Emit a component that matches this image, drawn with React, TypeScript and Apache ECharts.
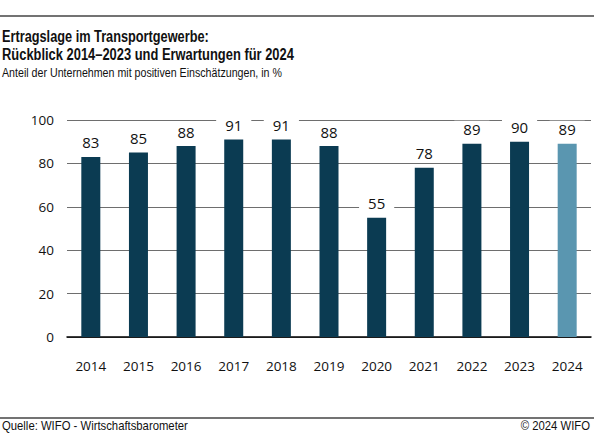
import React, { useEffect, useRef } from "react";
import * as echarts from "echarts";

const years = ["2014", "2015", "2016", "2017", "2018", "2019", "2020", "2021", "2022", "2023", "2024"];
const values = [83, 85, 88, 91, 91, 88, 55, 78, 89, 90, 89];
const forecastYear = "2024";

const titleLine1 = "Ertragslage im Transportgewerbe:";
const titleLine2 = "Rückblick 2014–2023 und Erwartungen für 2024";
const subtitle = "Anteil der Unternehmen mit positiven Einschätzungen, in %";
const sourceText = "Quelle: WIFO - Wirtschaftsbarometer";
const copyrightText = "© 2024 WIFO";

const DARK = "#0b3b52";
const LIGHT = "#5a96b0";

export default function App() {
  const ref = useRef<HTMLDivElement>(null);
  useEffect(() => {
    document.body.style.margin = "0";
    const chart = echarts.init(ref.current!, null, { renderer: "svg" });
    const titleFont = "'Liberation Sans', sans-serif";
    const bodyFont = "'Open Sans', sans-serif";
    const txt = (text: string, x: number, y: number, size: number, sx: number, bold: boolean, align = "left") => ({
      type: "text",
      x,
      y,
      scaleX: sx,
      style: {
        text,
        x: 0,
        y: 0,
        align,
        verticalAlign: "middle",
        fontSize: size,
        fontWeight: bold ? "bold" : "normal",
        fontFamily: titleFont,
        fill: "#111",
      },
    });
    chart.setOption({
      animation: false,
      backgroundColor: "#fff",
      grid: { left: 67, right: 3, top: 120, bottom: 101 },
      xAxis: {
        type: "category",
        data: years,
        axisLine: { lineStyle: { color: "#000", width: 1.5 } },
        axisTick: { show: false },
        axisLabel: { color: "#111", fontSize: 13.5, fontFamily: bodyFont, margin: 22 },
      },
      yAxis: {
        type: "value",
        min: 0,
        max: 100,
        interval: 20,
        axisLine: { show: false },
        axisTick: { show: false },
        splitLine: { lineStyle: { color: "#6e6e6e", width: 1 } },
        axisLabel: { color: "#111", fontSize: 13.5, fontFamily: bodyFont, margin: 13 },
      },
      series: [
        {
          type: "bar",
          barWidth: 19,
          data: values.map((v, i) => ({
            value: v,
            itemStyle: { color: years[i] === forecastYear ? LIGHT : DARK },
          })),
          label: {
            show: true,
            position: "top",
            distance: 6,
            color: "#111",
            fontSize: 15,
            fontFamily: bodyFont,
            backgroundColor: "#fff",
            padding: [1, 9, 1, 9],
          },
        },
      ],
      graphic: [
        { type: "line", shape: { x1: 0, y1: 16, x2: 594, y2: 16 }, style: { stroke: "#444", lineWidth: 1.5 } },
        txt(titleLine1, 2, 35.5, 17, 0.75, true),
        txt(titleLine2, 2, 54, 17, 0.76, true),
        txt(subtitle, 2, 73, 13, 0.82, false),
        { type: "line", shape: { x1: 0, y1: 418, x2: 594, y2: 418 }, style: { stroke: "#444", lineWidth: 1.5 } },
        txt(sourceText, 2, 426, 13, 0.87, false),
        txt(copyrightText, 590, 426, 13, 0.87, false, "right"),
      ],
    });
    return () => chart.dispose();
  }, []);
  return <div ref={ref} style={{ width: 594, height: 438 }} />;
}
